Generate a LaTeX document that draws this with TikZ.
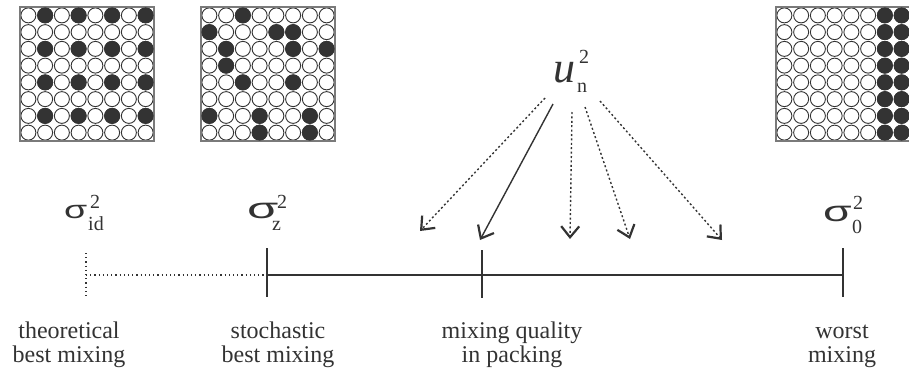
\documentclass[tikz,border=0pt]{standalone}
\usepackage{fontspec}
\setmainfont{Liberation Serif}
\newfontfamily\sigfont{Liberation Sans}
\usetikzlibrary{arrows.meta,calc}
\definecolor{ink}{HTML}{333333}
\definecolor{framegray}{HTML}{7A7A7A}
\begin{document}
\begin{tikzpicture}[x=1pt,y=-1pt,
  ballline/.style={draw=ink,line width=0.9pt},
  frame/.style={draw=framegray,line width=1.4pt},
  axis/.style={draw=ink,line width=1.6pt},
  dots/.style={draw=ink,line width=1.5pt,dash pattern=on 1.2pt off 3pt},
  arr/.style={draw=ink,line width=1.4pt,-{Straight Barb[length=11pt,width=18pt,line width=2.2pt]}},
  darr/.style={arr,dash pattern=on 2pt off 2.4pt},
  lbl/.style={font=\fontsize{24}{24}\selectfont,align=center,anchor=base,inner sep=0,text=ink},
  bigsig/.style={font=\fontsize{29}{29}\sigfont,anchor=base west,inner sep=0,text=ink},
  smallsig/.style={font=\fontsize{25}{25}\sigfont,anchor=base west,inner sep=0,text=ink},
  idx/.style={font=\fontsize{20}{20}\selectfont,anchor=base west,inner sep=0,text=ink}]
\useasboundingbox (0,0) rectangle (909,376);
\clip (0,0) rectangle (909,376);
% ---------- grids ----------
\def\cs{16.75}
\foreach \gx/\gy in {20/7,201/7,776/7}{
  \foreach \r in {0,...,7}{\foreach \c in {0,...,7}{
    \draw[ballline,fill=white] (\gx+8.375+\cs*\c,\gy+8.375+\cs*\r) circle[radius=7.5pt];
  }}
  \draw[frame] (\gx,\gy) rectangle (\gx+134,\gy+134);
}
% grid 1 dark
\foreach \r in {0,2,4,6}{\foreach \c in {1,3,5,7}{
  \draw[ballline,fill=ink] (20+8.375+\cs*\c,7+8.375+\cs*\r) circle[radius=7.5pt];
}}
% grid 2 dark
\foreach \c/\r in {2/0,0/1,4/1,5/1,1/2,5/2,7/2,1/3,2/4,5/4,0/6,3/6,6/6,3/7,6/7}{
  \draw[ballline,fill=ink] (201+8.375+\cs*\c,7+8.375+\cs*\r) circle[radius=7.5pt];
}
% grid 3 dark
\foreach \r in {0,...,7}{\foreach \c in {6,7}{
  \draw[ballline,fill=ink] (776+8.375+\cs*\c,7+8.375+\cs*\r) circle[radius=7.5pt];
}}
% ---------- sigma labels ----------
\node[smallsig] (sid) at (64,218) {\scalebox{1.5}[1]{σ}};
\node[idx] (sidsub) at (88,230) {id};
\node[idx] (sidsup) at (90,208) {2};
\node[bigsig] (sz) at (247,218) {\scalebox{1.75}[1]{σ}};
\node[idx] (szsub) at (272,230) {z};
\node[idx] (szsup) at (277,208) {2};
\node[bigsig] (s0) at (823,221) {\scalebox{1.6}[1]{σ}};
\node[idx] (s0sub) at (852,233) {0};
\node[idx] (s0sup) at (853,209) {2};
% ---------- u label ----------
\node[font=\fontsize{44}{44}\selectfont\itshape,anchor=base west,inner sep=0,text=ink] (u) at (553,82) {u};
\node[idx] (usub) at (577,92) {n};
\node[idx] (usup) at (579,63) {2};
% ---------- axis ----------
\coordinate (id) at (86,275);
\coordinate (z) at (267,275);
\coordinate (p) at (482,275);
\coordinate (w) at (843,275);
\draw[dots] ($(id)+(0,-22)$) -- ($(id)+(0,23)$);
\draw[dots] (id) -- (z);
\draw[axis] (z) -- (w);
\draw[axis] ($(z)+(0,-27)$) -- ($(z)+(0,22)$);
\draw[axis] ($(p)+(0,-25)$) -- ($(p)+(0,23)$);
\draw[axis] ($(w)+(0,-27)$) -- ($(w)+(0,22)$);
% ---------- arrows ----------
\coordinate (a1s) at (545,98);  \coordinate (a1e) at (420,231);
\coordinate (a2s) at (553,104); \coordinate (a2e) at (480,240);
\coordinate (a3s) at (572,112); \coordinate (a3e) at (570,239);
\coordinate (a4s) at (585,107); \coordinate (a4e) at (630,239);
\coordinate (a5s) at (600,101); \coordinate (a5e) at (722,240);
\draw[darr] (a1s) -- (a1e);
\draw[arr] (a2s) -- (a2e);
\draw[darr] (a3s) -- (a3e);
\draw[darr] (a4s) -- (a4e);
\draw[darr] (a5s) -- (a5e);
% ---------- bottom labels ----------
\node[lbl] (t1) at (69,362) {theoretical\\best mixing};
\node[lbl] (t2) at (278,362) {stochastic\\best mixing};
\node[lbl] (t3) at (512,362) {mixing quality\\in packing};
\node[lbl] (t4) at (842,362) {worst\\mixing};
\end{tikzpicture}
\end{document}
